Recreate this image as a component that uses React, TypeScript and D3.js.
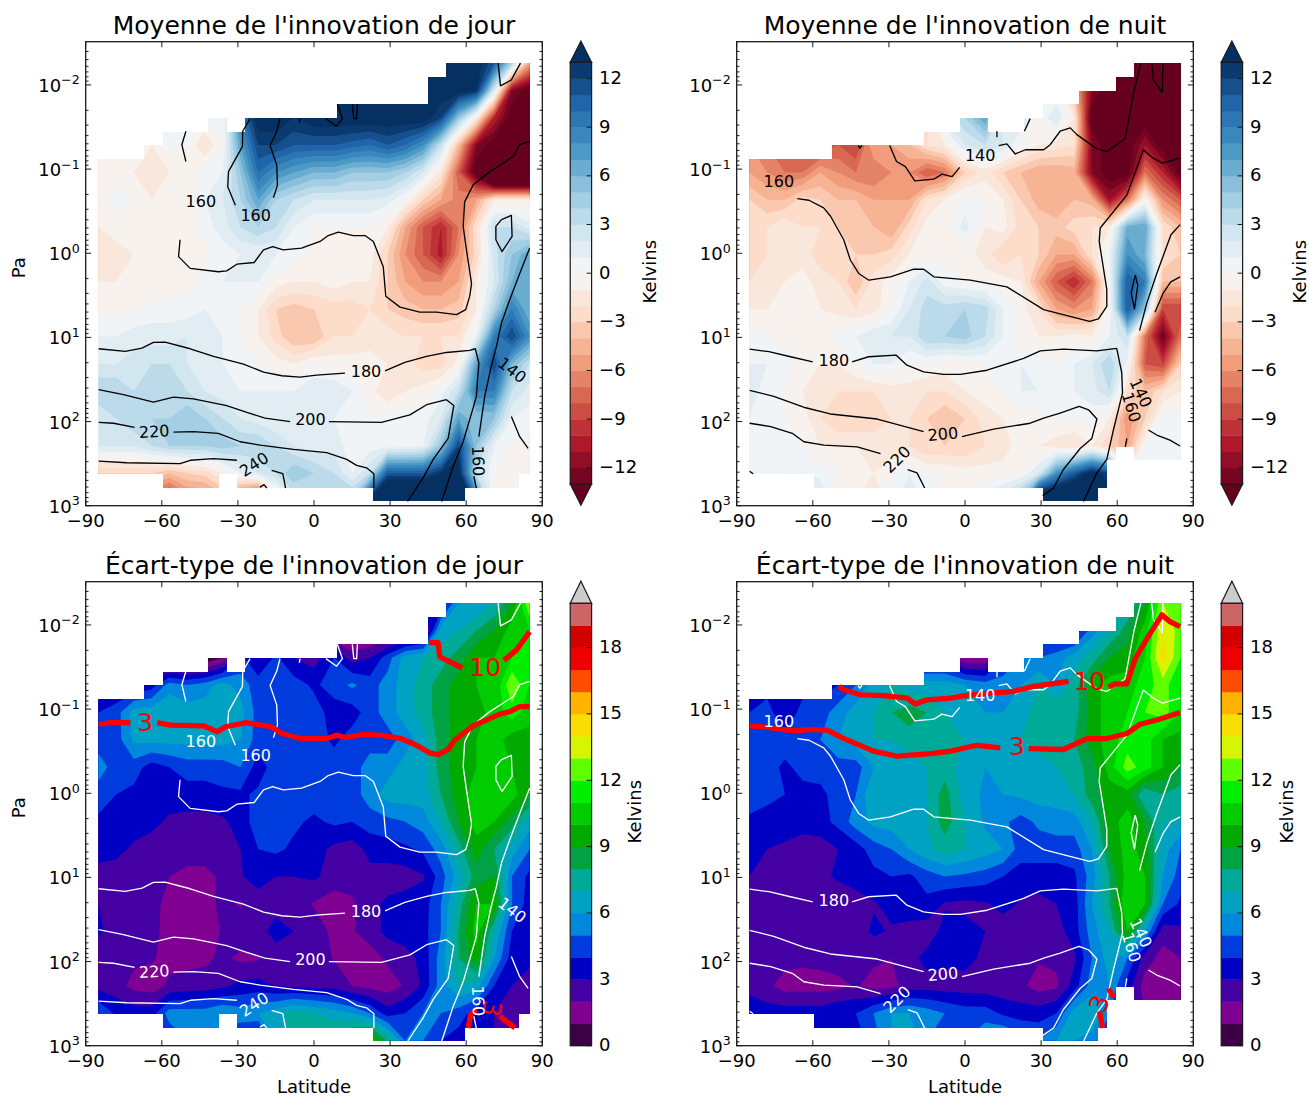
import React from "react";
import * as d3 from "d3";

const lats = [-85,-78,-71,-64,-57,-50,-43,-36,-29,-22,-15,-8,0,8,15,22,29,36,43,50,57,64,71,78,85];
const logPs = [-2.26,-1.935,-1.61,-1.285,-0.96,-0.635,-0.31,0.015,0.34,0.665,0.99,1.315,1.64,1.965,2.29,2.615,2.94];

const dayMean = [
[0,0,0,0,0,0,0,0,14,14,14,14,14,14,14,14,14,14,14,14,14,14,11,4,-5],
[0,0,0,0,0,0,0,0,14,14,14,14,14,14,14,14,14,14,14,14,14,13,2,-12,-14],
[0,0,0,0,0,0,0,0,9,14,14,13,14,14,14,14,14,14,14,12,5,-1,-10,-14,-14],
[-0.5,-0.5,-1,-1,0.5,0,-2,0,7,12,12,11,11,11,10.5,10,11,10,8,3,-4,-12,-14,-14,-14],
[-1,-0.5,-1,-2,-1,-1,0.5,1,5,10,8,7,6,6,5,5,5,4,2,-1.5,-8,-14,-24,-24,-24],
[-0.5,0.5,0,-1,-0.5,-0.5,1,2,4,7,4,3,2,2,2,2,1.5,0,-3,-5,-6.5,-5,-1,-1,-1],
[-1,-0.5,-0.5,-0.5,-0.5,-0.5,0.5,1.5,3,4,3,1,0,0,0,0,-1,-5,-8,-10,-7,-2,3,3,1.5],
[-2,-1.5,-1,-0.5,-0.5,-1,-0.5,0.5,1,1,1,0.5,-0.5,-0.5,-0.5,-0.5,-3,-6,-8,-10.5,-6,-2.5,2.5,5,7],
[-1,-1,-0.5,-1,-1,-0.5,0.5,1,1,1,-0.5,-1,-1,-0.5,-1,-1,-3,-5,-6,-6,-5,-1,2,6,7],
[0,-0.5,0,0.5,0.5,0.5,1,0.5,0,-1,-3,-3.5,-3,-2.5,-2.5,-2,-3,-3.5,-4,-4,-3.5,-1,4,9,6],
[1,1,1.5,1.5,1.5,2,1.5,1,0,-1,-2.5,-4,-4,-2,-2,-1.5,-1.5,-2,-2,-2,-2,1,9,12,8],
[2,2,2.5,3,3,2,1.5,1,0.5,0,-0.5,-1,0,-0.5,-0.5,-0.5,-1,-1.5,-2.5,-2.5,-0.5,7,12,6,3],
[4,4,3,3.5,3.5,3,2,1.5,1,1,1,1,2,2,1,-0.5,-2,-1,-0.5,0.5,3,9,9,3,1.5],
[2,3,4,4,4,5,4,3,2,1.5,1,1,1,1,0.5,0,0.5,0.5,0.5,2,7,5,5,1,0.5],
[2,2,2,3,4,4,4,4.5,4,4,3,2,1.5,1.5,0.5,0.5,0.5,0.5,1,5,12,5,1,0,-0.5],
[-3,-3,-3,-3,-4,-3,-2.5,-1,1,2,3,5,4,3,1,3,11,11,11,13,14,3,0,-0.5,-1],
[-8,-8,-8,-8,-10,-7,-7,-5,-9,-12,-2,2,2,4,5,14,20,20,20,20,20,10,0,-0.5,-1],
];

const nightMean = [
[0,0,0,0,0,0,0,0,0,0,0,0,0,0,0,0,0,0,-4,-14,-14,-14,-14,-14,-14],
[0,0,0,0,0,0,0,0,0,0,0,0,0,0,0,0,0,0,-4,-12,-14,-14,-14,-14,-14],
[-3,-3,-3,-3,-3,-3,-3,-3,-3,-3,-3,2,4,7,1,2,0,2,-1,-14,-14,-14,-14,-14,-14],
[-6,-7,-8,-9,-9,-8,-9,-5,-5,-4,-2,-1,2,3,2,0,-1,-1.5,-2,-12,-14,-14,-11,-14,-14],
[-5,-6,-7,-7,-5,-6,-7,-7,-6,-6,-8,-7,-3,-1.5,-3,-4,-5,-5,-4.5,-12,-14,-14,-7,-10,-14],
[-3,-4,-4,-2.5,-3,-4,-4,-5,-5,-5,-2,-1,0.5,0,-1,-3,-4.5,-5,-4,-4.5,-11,-7,0,-6,-8],
[-2.5,-2,-1,-2,-2,-3,-3.5,-4,-5,-2.5,-0.5,-0.5,1.5,-1,-0.5,-2.5,-3,-3.5,-2.5,-2,-1,6.5,7,-2,-4],
[-3,-2,-2,-1.5,-2.5,-2.5,-3,-3,-2.5,-1,-0.5,-0.5,-0.5,-1.5,-3,-2,-3,-5,-5,-2,1,8,6,-2,-3],
[-2,-2,-1,-0.5,-1.5,-2,-4,-1.5,-0.5,1,2.5,0.5,0,-0.5,-0.5,-1,-5,-8,-10,-7,0.5,11,9,-4,-4],
[-1,-1,-0.5,-0.5,-1,-1.5,-2,-1.5,0,2,3.5,3.5,4,3.5,1,-0.5,-2,-5,-6,-5,0,11,5,-9,-9],
[0.5,0,-0.5,-0.5,-0.5,0.5,1,2,2,2,4,4,4.5,3,1,-0.5,-1,-1,-0.5,-1,1,3,-7,-13,-7],
[1,1,0.5,-0.5,-1,-1,0,1,1,0,0,-0.5,-0.5,0,0.5,1,0.5,0,1,2,4,0.5,-8,-9,-3],
[1.5,0.5,0,-1,-2,-2,-2,-2,-1.5,-1.5,-2,-2,-1,-0.5,0,1,1,0,1,1.5,3,-2,-4,-2,-1],
[1,0.5,0,-0.5,-2,-3,-3,-2.5,-2,-2,-3,-4,-3,-1.5,-1,-0.5,-0.5,0,0,0.5,-1,-6,-3,0.5,0.5],
[0.5,0.5,0.5,0,-1,-1,-1,-1.5,-2,-2,-3,-3,-3,-2,-1.5,-0.5,-1,-1.5,-2,-1,-3,-5,0,1,1],
[0.5,0.5,1,1,0.5,0,0,-1,0,1,0,0,-0.5,-0.5,-0.5,0,2,8,11,14,12,0,0,0,0],
[0,0,0,2,3,-2,-1,-3,0,3,0,-1,0,2,3,6,18,18,18,14,14,0,0,0,0],
];

const dayStd = [
[3,3,3,3,3,3,3,3,3,3,3,3,3,3,3,3,3,3,3,3,6,6,7,9,13],
[3,3,3,3,3,3,3,3,3,3,3,3,0.5,0.5,0.5,0.5,0.5,0.5,1,6.5,7,8,9,10.5,11],
[3,3,3,1,0,0,0,1,4.3,3,4.2,3,2.5,4,2.5,3,4.5,6.5,7,7.5,8.5,10,10,11,11],
[3,3,3,3.5,5.5,5,5.5,6.5,5.5,4.5,4.5,4.5,3.8,4.5,5.2,4.5,5.5,6.5,7.5,8.5,9.5,10,10,13,11],
[4,4.5,6.5,6.6,7,6.6,6.6,7,6.5,4.5,4.5,4.5,4.5,3.5,3.5,4.5,5.5,6.5,7.5,8.5,9.5,9.5,10.5,11.5,10.5],
[4.5,4.5,6.2,6.3,6.3,6.3,6.3,6.4,6,4.5,4.5,4.5,4.5,3.8,4.5,4.5,4.5,5.5,6.5,8.5,9.5,10,10.5,9.5,9.5],
[5.5,4.5,4.5,3.5,4,4.5,4.5,4.5,5,3.5,4.5,4.5,4.5,4.5,4.5,5.5,5.5,6.5,6.5,8.5,9.5,10,10.5,10,9.5],
[4.5,4,3.7,3.5,3.5,3.5,3.5,3.8,3.8,4.2,4.5,4.5,4.5,4.5,4.5,5.5,6.5,6.5,6.5,8,9.5,10.5,10.5,10.5,9],
[3.8,3.6,3.5,3.3,2.8,2.7,2.7,2.8,3.5,4.5,4.5,4.2,3.8,4.2,4,4.5,4.7,5,5.5,7,9,10.5,10,8.5,6.5],
[3.3,3.3,2.8,2.5,2.5,2.5,2.5,2.5,3,4,4.2,3.8,3.5,2.7,2.5,3.3,3.5,3.8,4.2,5.5,7.5,9.5,8,6.5,5],
[2.7,2.5,2.5,2.4,2,1.7,1.7,2.2,2.9,3.5,3,3,3.2,2.5,2.5,2.7,2.5,2.5,2.9,4.5,6.5,8.5,9,5,3.7],
[3,2.5,3,2.5,1.5,1.5,1.7,2.2,1.9,2.4,2.7,2.5,1.9,1.5,1.8,2.7,3.2,3.5,3.5,5,7.5,10,10,5,3.5],
[3.2,2.5,3,2.4,1.5,1.5,1.5,2.1,2.5,2.7,3.3,3,2.6,1.7,1.9,2.5,3.3,3.5,3.6,5,8,10.5,7,4,3.5],
[2.2,2.4,2.2,2.1,1.7,1.7,1.8,2.2,1.8,1.9,2.6,2.6,2.4,1.95,1.5,1.5,2.2,2.6,3.3,5.5,8,9.5,6,3.5,3.5],
[2.7,2.4,1.7,1.5,2.2,2.4,2.5,2.8,3.3,3.4,3,2.8,2.7,2.6,2,1.7,1.5,2.1,3.2,5.5,7,6.5,4,3,2],
[5,3.8,3.5,3.5,5.5,5.5,5.5,6,5.5,6,6.5,7.5,7,6.5,6,5,3.5,4,5,5,4.5,3.5,3,2.5,2],
[3,3,3,3,4,5,5,4,4,2.5,6,7.5,8.5,8.5,10,11,8,5,5,4,3.5,3.5,3,2,2],
];

const nightStd = [
[5,5,5,5,5,5,5,5,5,5,5,5,5,5,5,5,5,5,5,5,5,7,9,13,12],
[3,3,3,3,3,3,3,3,3,3,3,3,3,3,3,3,3,3,3,5.5,7,8.5,10.5,14,12.5],
[3,3,3,3,3,3,3,3,3,3,3,3,1,1,4,5,5,5.5,6.5,7.5,9,9.5,11,14.5,12],
[3.5,3.5,3.5,3.5,3.5,4,5,6.5,7,6.5,6.5,6.5,6,5.5,5.5,6,7,6,7.5,9.5,10.5,10.5,11.5,12.5,11],
[4,4.5,3,4.5,4.5,5.5,6.5,7,8,8.5,8,7,6,6,6,6.5,7.5,8,7.5,9.5,10.5,11,12,12.5,11],
[4.5,4.5,4.5,4.5,5,6,6.5,7,7,7.5,7.5,7,7,6.5,6.5,7,7.5,7.5,8,9.5,10.5,11.5,11.5,10,9.5],
[4.5,4.4,3.8,4.3,4.5,4.5,4.5,6,6.5,6.5,7,7.5,6.5,6,6,6.5,6.5,7,7.5,8.5,10.5,12.5,11.5,10,9],
[4.5,4.2,4,3.7,3.7,4.5,5,7,6.5,6,7,8.5,6.5,5.8,6,6.2,6.5,6.5,7,8.5,9.5,9.5,7,8,7.5],
[3.8,3.7,3.5,3.4,3.6,4.3,5.5,6.3,6.5,6.5,7,8.5,7,5.8,5.2,4.6,5.2,5.5,5.5,7,9.5,10.5,9,7,7],
[3,3,2.8,2.5,2.5,3,3.5,4.5,5,6,6.8,7.5,7,6.5,6,4.5,4.5,4.5,4.5,6,9,10.5,9.5,6.5,5],
[3,2.8,2.5,2.5,2.7,3.2,3.4,3.7,4,3.8,4.5,5,4.8,4.5,4,3.5,3.5,3.5,3.8,5.5,8,10.5,10,6,4.5],
[2.6,2.5,2.4,2.3,2.5,2,2.6,2.9,3.3,3.5,3.7,2.9,2.7,2.9,3.3,2.9,2.7,3,3.5,6,8,11,10,5,3.8],
[2.6,2.5,2.4,2.4,2.6,2.5,2.5,3.2,2.9,2.7,2.5,3.3,3.4,3,2.5,2.4,2.5,2.6,3.5,5.5,7,10,6,2.4,2.8],
[2.5,2.4,2.3,2.2,2.3,2.5,2.6,2.2,2,2.7,3.3,3.3,3.4,2.7,2.6,2.4,2.1,2.2,2.8,5,6.5,5,2.5,1.6,2],
[2.5,2.2,1.6,1.6,1.6,1.7,2.1,1.6,1.7,2.5,2.6,2.5,2.5,2.4,2.3,2.2,1.6,1.8,3.5,5.5,6,3.5,1.5,1.5,1.7],
[4,3.5,3.5,3.5,3.5,4,4,5,6,6,5.5,5,4.5,4.5,3.8,3.5,3.5,4,6.5,7,5,2,2,2,2],
[4,4,4,8,3,2.5,3.5,4.5,6,7,5,4,5,6,6.5,5.5,5,6,6,5.5,4,2,2,2,2],
];

// valid data: [logP top, logP bottom, lat from, lat to]
const dayValid = [
[-2.257,-2.095,52.2,85],[-2.095,-1.77,45,85],[-1.77,-1.604,8.9,85],
[-1.604,-1.442,-41.6,-34.4],[-1.604,-1.442,-27.2,85],[-1.442,-1.283,-59.7,85],
[-1.283,-1.121,-67,85],[-1.121,2.624,-85,85],[2.624,2.786,-59.7,-37.5],[2.624,2.786,-30.4,81],
[2.786,2.949,23.4,59.4],
];
const nightValid = [
[-2.257,-2.095,66.7,85],[-2.095,-1.933,59.6,85],[-1.933,-1.77,45,85],[-1.77,-1.604,30.6,85],
[-1.604,-1.442,-1.8,9],[-1.604,-1.442,23.4,85],[-1.442,-1.283,-16.3,85],[-1.283,-1.121,-52.4,85],
[-1.121,2.3,-85,85],[2.3,2.46,-85,59.6],[2.3,2.46,66.7,85],[2.46,2.624,-85,55.9],
[2.624,2.786,-59.7,55.9],[2.786,2.949,30.6,52.4],
];

// isotherms [lat, logP]
const dayIso = [
[[72.6,-2.26],[73.5,-1.99],[77.8,-2.06],[81.4,-2.26]],
[[85,-1.33],[81.1,-1.29],[78.5,-1.15],[74.5,-1.07],[69.3,-0.97],[62.7,-0.81],[59.4,-0.61],[58.8,-0.32],[60.1,-0.04],[62.1,0.36],[61.4,0.51],[59.8,0.67],[56.2,0.73],[48.3,0.7],[41.7,0.7],[33.9,0.64],[28.3,0.51],[27.3,0.16],[23.4,-0.14],[20.1,-0.21],[15.5,-0.21],[9.6,-0.25],[5.6,-0.21],[2.4,-0.14],[-4.9,-0.06],[-12.1,-0.04],[-16.3,-0.08],[-19.9,-0.04],[-23.6,0.11],[-30.4,0.13],[-34.4,0.21],[-37.7,0.22],[-48.8,0.18],[-53.4,0.04],[-52.8,-0.16]],
[[-50.5,-1.45],[-52.1,-1.29],[-50.5,-1.09]],
[[-25.2,-1.6],[-28.1,-1.45],[-28.2,-1.27],[-33.7,-0.97],[-34,-0.79],[-31,-0.57]],
[[-13.4,-1.6],[-14.7,-1.45],[-17.3,-1.28],[-14.7,-1.05],[-14.4,-0.81],[-16,-0.66]],
[[-5.5,-1.6],[-5.8,-1.55]],
[[9.2,-1.77],[11.2,-1.6],[8.9,-1.51],[4.7,-1.6]],
[[15.1,-1.77],[15.7,-1.6],[16.8,-1.6],[17.1,-1.77]],
[[73.9,-0.4],[77.8,-0.45],[78.1,-0.2],[74.1,-0.02],[71.7,-0.16],[71.7,-0.32],[73.9,-0.4]],
[[85,-0.06],[81.1,0.24],[77.2,0.55],[73.9,0.83],[71.9,1.11],[69.9,1.34],[67.3,1.7],[65,2.18]],
[[63,2.65],[64,2.79]],
[[77.8,1.94],[81.1,2.18],[84.4,2.32]],
[[-84.9,1.135],[-74.4,1.167],[-67.8,1.127],[-63.3,1.06],[-58.7,1.056],[-48.8,1.135],[-39.6,1.226],[-27.8,1.318],[-19.9,1.412],[-12.7,1.456],[-5.5,1.472],[1,1.448],[12.2,1.424]],
[[28,1.397],[35.8,1.298],[44.4,1.226],[52.2,1.179],[61.4,1.155],[63.6,1.135],[65,1.306],[64,1.7],[62.7,1.84],[58.8,2.24],[54.9,2.53],[50.3,2.95]],
[[-84.9,1.62],[-75.1,1.68],[-63.3,1.77],[-55.4,1.71],[-47.5,1.73],[-34.4,1.81],[-26.5,1.89],[-19.3,1.96],[-9.4,2]],
[[5.9,2],[26.6,2.01],[37.8,1.92],[44.4,1.8],[52.2,1.74],[55.1,1.81],[52.9,2.2],[47,2.45],[43,2.67],[36.9,2.95]],
[[-84.9,2.01],[-79,2.02],[-70.7,2.07]],
[[-55.4,2.125],[-47.5,2.12],[-37.7,2.14],[-29.1,2.24],[-21.3,2.28],[-8.1,2.33],[5,2.37],[12.9,2.45],[16.8,2.52],[20.7,2.55],[23.6,2.62],[23.6,2.79]],
[[-84.9,2.47],[-73.8,2.49],[-52.8,2.5],[-48.8,2.46],[-39.6,2.44],[-30.4,2.46]],
[[-16.7,2.58],[-12.3,2.62],[-11.2,2.79]],
[[-21.3,2.78],[-19.7,2.75],[-18.6,2.79]],
];
const nightIso = [
[[13.3,-1.28],[16.5,-1.3],[19.8,-1.18],[23.8,-1.23],[31,-1.23],[33.6,-1.29],[37.5,-1.45],[41.5,-1.49],[44.1,-1.41],[52,-1.24],[55.9,-1.21],[63.1,-1.36],[66.7,-1.94],[69.3,-2.26]],
[[73.6,-2.26],[74.3,-2.06],[77.8,-1.91],[78,-2.26]],
[[84.8,-1.13],[77.8,-1.07],[74.3,-1.13],[70.3,-1.228],[63.8,-0.69],[53.3,-0.3],[52.9,-0.14],[55.9,0.43],[55.9,0.63],[52.6,0.78],[49.1,0.81],[31,0.67],[16.5,0.4],[2.1,0.32],[-12.3,0.28],[-16.3,0.19],[-20.2,0.19],[-29.4,0.28],[-37.9,0.32],[-41.9,0.24],[-45.2,0.08],[-47.8,-0.16],[-53,-0.44],[-55.7,-0.54],[-61.5,-0.63],[-66.1,-0.65]],
[[-29.7,-1.28],[-27,-1.09],[-23.5,-1.03],[-19.8,-0.86],[-12.3,-0.88],[-9.1,-0.94],[-5.1,-0.91],[-2.1,-1.02]],
[[-42.1,-1.28],[-41.5,-1.25],[-40.6,-1.28]],
[[12.6,-1.45],[12.6,-1.38]],
[[25.7,-1.6],[23.4,-1.45]],
[[67.1,0.26],[68.1,0.38],[66.8,0.66],[65.5,0.47],[67.1,0.26]],
[[84.8,-0.34],[81.2,-0.22],[75.6,0.24],[71.7,0.59],[68.8,0.92]],
[[84.8,0.28],[81.1,0.34],[78.2,0.47],[74.9,0.7]],
[[-84.9,1.14],[-77.3,1.17],[-68.8,1.23],[-60,1.29]],
[[-44.5,1.29],[-38,1.23],[-27.2,1.21],[-22.9,1.33],[-16.3,1.41],[-8.4,1.44],[-1.8,1.44],[8.7,1.39],[23.1,1.25],[29.7,1.16],[38.8,1.14],[52,1.16],[59.8,1.13],[61.8,1.42],[62.1,1.66],[58.5,2.1],[55.9,2.45],[52,2.61],[46.7,2.95]],
[[63.8,2.2],[63.2,2.3]],
[[-84.9,1.63],[-75.4,1.7],[-63.6,1.83],[-53.1,1.91],[-34.6,1.97],[-16.3,2.12]],
[[-1.2,2.18],[11.3,2.09],[25.7,2.02],[31,1.96],[37.5,1.9],[45,1.82],[48.7,1.86],[52,1.97],[50,2.2],[45.4,2.32],[38.8,2.57],[34.9,2.79],[30.6,2.88]],
[[-84.9,2.02],[-76.6,2.06],[-68.1,2.14],[-63.5,2.24],[-55.6,2.28],[-42.5,2.3],[-33.3,2.38]],
[[-22.6,2.57],[-18.9,2.61],[-15.9,2.79]],
[[72.3,2.1],[75.6,2.16],[80.8,2.22],[84.8,2.29]],
[[-84.9,2.59],[-83.5,2.62]],
];
// contour labels [text, lat, logP, rotation]
const dayLabels: [string, number, number, number][] = [
["160",-44.6,-0.62,0],["160",-23,-0.45,0],["180",20.5,1.4,0],["200",-1.4,1.97,0],["220",-63,2.12,-3],["240",-23.6,2.51,-33],["140",78.1,1.39,38],["160",64.7,2.47,88],
];
const nightLabels: [string, number, number, number][] = [
["140",6,-1.16,0],["160",-73.4,-0.85,0],["180",-51.7,1.28,0],["200",-8.7,2.15,-5],["220",-26.8,2.45,-45],["140",69.3,1.66,65],["160",65.5,1.83,73],
];
// contours of the standard deviation at 3 and 10 K
const dayRed = [
[[-84.9,-0.82],[-80.3,-0.84],[-72.4,-0.84]],
[[-61.8,-0.84],[-56.5,-0.81],[-43.4,-0.8],[-38.1,-0.73],[-34.9,-0.79],[-26.8,-0.84],[-16.7,-0.79],[-12.7,-0.71],[-5.5,-0.65],[5,-0.65],[8.9,-0.69],[12.8,-0.66],[19.3,-0.7],[25.9,-0.69],[34.5,-0.65],[40.4,-0.57],[45.6,-0.48],[48.9,-0.46],[52.9,-0.52],[55.4,-0.63],[62.7,-0.8],[73.2,-0.94],[77.2,-0.97],[81.1,-1.03],[85,-1.03]],
[[45.3,-1.79],[48.9,-1.79],[49.6,-1.62],[58.5,-1.49]],
[[74.8,-1.58],[79.8,-1.7],[85,-1.92]],
[[60.8,2.79],[61.7,2.63],[64,2.57]],
[[73.2,2.65],[79.2,2.79]],
];
const nightRed = [
[[-49.7,-1.27],[-47.8,-1.23],[-41.2,-1.17],[-32,-1.16],[-22.8,-1.13],[-19.6,-1.06],[-15,-1.11],[-5.8,-1.13],[2.1,-1.17],[19.2,-1.21],[27,-1.27],[40.8,-1.33]],
[[56.6,-1.26],[59.2,-1.3],[63.8,-1.3],[67.1,-1.6],[73,-1.9],[77.6,-2.12],[80.8,-2.04],[84.8,-1.98]],
[[-84.9,-0.8],[-79.3,-0.79],[-67.5,-0.74],[-60.9,-0.76],[-54.3,-0.75],[-47.8,-0.65],[-36,-0.5],[-26.8,-0.44],[-13.6,-0.47],[-5.8,-0.5],[4.7,-0.57],[13.9,-0.54]],
[[25.1,-0.53],[38.8,-0.52],[48,-0.65],[55.9,-0.65],[63.8,-0.71],[69,-0.82],[75.6,-0.87],[84.8,-0.96]],
[[56.6,2.32],[58.6,2.43]],
[[53,2.59],[54.3,2.79]],
];
const dayRedLabels: [string, number, number, number][] = [["3",-66.5,-0.84,0],["10",67.5,-1.5,0],["3",70,2.56,100]];
const nightRedLabels: [string, number, number, number][] = [["10",49,-1.33,0],["3",20.5,-0.55,0],["3",53,2.5,-70]];

const meanLevels = d3.range(-13, 14);
const stdLevels = d3.range(0, 21);
const xTicks = [-90,-60,-30,0,30,60,90];
const yDecades = [-2,-1,0,1,2,3];
const meanTicks = [-12,-9,-6,-3,0,3,6,9,12];
const stdTicks = [0,3,6,9,12,15,18];

const rdbu = ["#67001f","#b2182b","#d6604d","#f4a582","#fddbc7","#f7f7f7","#d1e5f0","#92c5de","#4393c3","#2166ac","#053061"];
const rdbuScale = d3.scaleLinear<string>().domain(rdbu.map((_, i) => i / 10)).range(rdbu).interpolate(d3.interpolateRgb as any);
const spectralStops: [number, string][] = [[0,"#000000"],[.05,"#770088"],[.1,"#880099"],[.15,"#0000aa"],[.2,"#0000dd"],[.25,"#0077dd"],[.3,"#0099dd"],[.35,"#00aaaa"],[.4,"#00aa88"],[.45,"#009900"],[.5,"#00bb00"],[.55,"#00dd00"],[.6,"#00ff00"],[.65,"#bbff00"],[.7,"#eeee00"],[.75,"#ffcc00"],[.8,"#ff9900"],[.85,"#ff0000"],[.9,"#dd0000"],[.95,"#cc0000"],[1,"#cccccc"]];
const spectralScale = d3.scaleLinear<string>().domain(spectralStops.map(d => d[0])).range(spectralStops.map(d => d[1]));

const FONT = "'DejaVu Sans', sans-serif";
const INK = "#1a1a1a";
const AX_W = 456.6, AX_H = 464;
const minus = (v: number) => (v < 0 ? "\u2212" + Math.abs(v) : String(v));

type PanelProps = {
  id: string; left: number; top: number; title: string; field: number[][]; valid: number[][];
  kind: "mean" | "std"; iso: number[][][]; labels: [string, number, number, number][];
  red?: number[][][]; redLabels?: [string, number, number, number][];
  ylabel?: boolean; xlabel?: boolean; cbLabelX: number;
};

function Panel(p: PanelProps) {
  const x = d3.scaleLinear().domain([-90, 90]).range([p.left, p.left + AX_W]);
  const y = d3.scaleLinear().domain([3, -2.514]).range([p.top + AX_H, p.top]);
  const levels = p.kind === "mean" ? meanLevels : stdLevels;
  const nBands = levels.length - 1;
  const bandColor = (i: number) => p.kind === "mean" ? rdbuScale((i + 0.5) / nBands) : spectralScale((i + 0.5) / nBands);
  const overColor = p.kind === "mean" ? "#053061" : "#cccccc";
  const underColor = "#67001f";

  const nx = lats.length, ny = logPs.length;
  const flat = p.field.flat();
  const gridX = d3.scaleLinear().domain(d3.range(nx)).range(lats.map(l => x(l))).clamp(true);
  const gridY = d3.scaleLinear().domain(d3.range(ny)).range(logPs.map(l => y(l))).clamp(true);
  const geo = d3.geoPath(d3.geoTransform({
    point(this: any, a: number, b: number) { this.stream.point(gridX(a - 0.5), gridY(b - 0.5)); },
  }));
  const contours = d3.contours().size([nx, ny]).thresholds(levels)(flat);

  const line = d3.line<number[]>().x(d => x(d[0])).y(d => y(d[1]));
  const ink = p.kind === "mean" ? "#000" : "#fff";
  const minorTicks: number[] = [];
  yDecades.forEach(d => {
    for (let k = 2; k <= 9; k++) {
      const v = d - 1 + Math.log10(k);
      if (v > -2.514 && v < 3) minorTicks.push(v);
    }
  });

  const cbLeft = p.left + AX_W + 27.9, cbW = 21.4;
  const extentTop = p.top + (p.kind === "mean" ? 20.6 : 21.6);
  const extentBot = p.kind === "mean" ? p.top + 442.4 : p.top + AX_H;
  const cb = d3.scaleLinear().domain([levels[0], levels[levels.length - 1]]).range([extentBot, extentTop]);
  const cbTicks = p.kind === "mean" ? meanTicks : stdTicks;

  return (
    <g fontFamily={FONT}>
      <clipPath id={p.id}>
        {p.valid.map((b, i) => {
          const x0 = Math.round(x(b[2])), x1 = Math.round(x(b[3])), y0 = Math.round(y(b[0])), y1 = Math.round(y(b[1]));
          return <rect key={i} x={x0} y={y0} width={x1 - x0} height={y1 - y0} />;
        })}
      </clipPath>
      <g clipPath={`url(#${p.id})`}>
        <rect x={p.left} y={p.top} width={AX_W} height={AX_H} fill={p.kind === "mean" ? underColor : bandColor(0)} />
        {contours.map((c, i) => (
          <path key={i} d={geo(c as any) || ""} fill={i >= nBands ? overColor : bandColor(i)} />
        ))}
      </g>
      {p.iso.map((s, i) => <path key={i} d={line(s) || ""} fill="none" stroke={ink} strokeWidth={1.33} strokeLinejoin="round" />)}
      {(p.red || []).map((s, i) => <path key={i} d={line(s) || ""} fill="none" stroke="#ff0000" strokeWidth={5.3} strokeLinejoin="round" />)}
      {(p.redLabels || []).map((l, i) => (
        <text key={i} x={x(l[1])} y={y(l[2])} fontSize={25} fill="#ff0000" textAnchor="middle" dominantBaseline="central"
          transform={`rotate(${l[3]} ${x(l[1])} ${y(l[2])})`}>{l[0]}</text>
      ))}
      {p.labels.map((l, i) => (
        <text key={i} x={x(l[1])} y={y(l[2])} fontSize={16} fill={ink} textAnchor="middle" dominantBaseline="central"
          transform={`rotate(${l[3]} ${x(l[1])} ${y(l[2])})`}>{l[0]}</text>
      ))}

      <rect x={p.left} y={p.top} width={AX_W} height={AX_H} fill="none" stroke={INK} strokeWidth={1.3} />
      {xTicks.map(t => (
        <g key={t}>
          <line x1={x(t)} x2={x(t)} y1={p.top + AX_H} y2={p.top + AX_H - 5.5} stroke={INK} strokeWidth={1} />
          <line x1={x(t)} x2={x(t)} y1={p.top} y2={p.top + 5.5} stroke={INK} strokeWidth={1} />
          <text x={x(t)} y={p.top + AX_H + 21} fontSize={18} fill="#000" textAnchor="middle">{minus(t)}</text>
        </g>
      ))}
      {yDecades.map(d => (
        <g key={d}>
          <line x1={p.left} x2={p.left + 5.5} y1={y(d)} y2={y(d)} stroke={INK} strokeWidth={1} />
          <line x1={p.left + AX_W} x2={p.left + AX_W - 5.5} y1={y(d)} y2={y(d)} stroke={INK} strokeWidth={1} />
          <text x={p.left - 6} y={y(d) + 7} fontSize={18} fill="#000" textAnchor="end">
            10<tspan fontSize={12.6} dy={-7.5}>{minus(d)}</tspan>
          </text>
        </g>
      ))}
      {minorTicks.map((v, i) => (
        <g key={i}>
          <line x1={p.left} x2={p.left + 2.8} y1={y(v)} y2={y(v)} stroke={INK} strokeWidth={1} />
          <line x1={p.left + AX_W} x2={p.left + AX_W - 2.8} y1={y(v)} y2={y(v)} stroke={INK} strokeWidth={1} />
        </g>
      ))}
      <text x={p.left + AX_W / 2} y={p.top - 8} fontSize={25} fill="#000" textAnchor="middle">{p.title}</text>
      {p.ylabel && <text x={0} y={0} fontSize={18} fill="#000" textAnchor="middle" transform={`translate(25 ${p.top + 226}) rotate(-90)`}>Pa</text>}
      {p.xlabel && <text x={p.left + AX_W / 2} y={p.top + AX_H + 47} fontSize={18} fill="#000" textAnchor="middle">Latitude</text>}

      {/* colour bar */}
      <path d={`M${cbLeft},${extentTop} L${cbLeft + cbW / 2},${p.top - 0.5} L${cbLeft + cbW},${extentTop} Z`} fill={overColor} stroke={INK} strokeWidth={1.2} />
      {p.kind === "mean" && <path d={`M${cbLeft},${extentBot} L${cbLeft + cbW / 2},${p.top + AX_H - 0.5} L${cbLeft + cbW},${extentBot} Z`} fill={underColor} stroke={INK} strokeWidth={1.2} />}
      {levels.slice(0, -1).map((l, i) => (
        <rect key={l} x={cbLeft} y={cb(l + 1)} width={cbW} height={cb(l) - cb(l + 1) + 0.4} fill={bandColor(i)} />
      ))}
      <rect x={cbLeft} y={extentTop} width={cbW} height={extentBot - extentTop} fill="none" stroke={INK} strokeWidth={1.2} />
      {cbTicks.map(t => (
        <g key={t}>
          <line x1={cbLeft + cbW - 5} x2={cbLeft + cbW} y1={cb(t)} y2={cb(t)} stroke={INK} strokeWidth={1} />
          <text x={cbLeft + cbW + 7.5} y={cb(t) - 1} fontSize={18} fill="#000" dominantBaseline="central">{minus(t)}</text>
        </g>
      ))}
      <text fontSize={18} fill="#000" textAnchor="middle" transform={`translate(${p.cbLabelX} ${p.top + 230}) rotate(-90)`}>Kelvins</text>
    </g>
  );
}

export default function App() {
  return (
    <svg width={1309} height={1097} viewBox="0 0 1309 1097" style={{ position: "absolute", left: 0, top: 0, display: "block", background: "#fff" }}>
      <Panel id="c1" left={85.7} top={41.7} title="Moyenne de l'innovation de jour" field={dayMean} valid={dayValid} kind="mean" iso={dayIso} labels={dayLabels} ylabel cbLabelX={656} />
      <Panel id="c2" left={736.7} top={41.7} title="Moyenne de l'innovation de nuit" field={nightMean} valid={nightValid} kind="mean" iso={nightIso} labels={nightLabels} cbLabelX={1306} />
      <Panel id="c3" left={85.7} top={581.7} title="Écart-type de l'innovation de jour" field={dayStd} valid={dayValid} kind="std" iso={dayIso} labels={dayLabels} red={dayRed} redLabels={dayRedLabels} ylabel xlabel cbLabelX={641} />
      <Panel id="c4" left={736.7} top={581.7} title="Écart-type de l'innovation de nuit" field={nightStd} valid={nightValid} kind="std" iso={nightIso} labels={nightLabels} red={nightRed} redLabels={nightRedLabels} xlabel cbLabelX={1293} />
    </svg>
  );
}
